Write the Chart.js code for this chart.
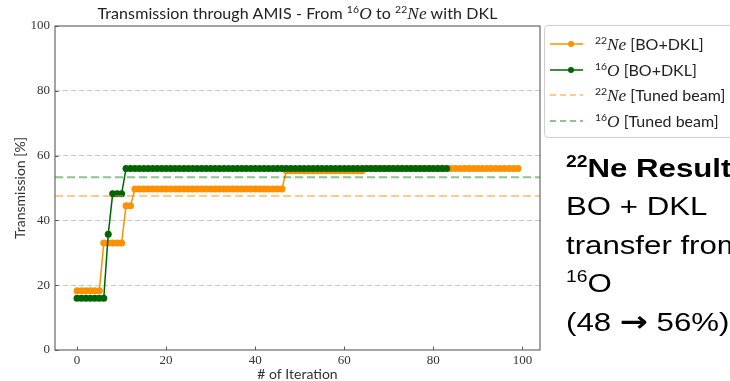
<!DOCTYPE html>
<html>
<head>
<meta charset="utf-8">
<script src="https://cdn.jsdelivr.net/npm/chart.js@4.4.0/dist/chart.umd.min.js"></script>
<style>
  html, body { margin: 0; padding: 0; background: #fff; }
  #wrap { position: relative; width: 730px; height: 381px; overflow: hidden; }
  #chart { position: absolute; left: 0; top: 0; }
  #title { position: absolute; left: 55px; width: 485px; top: 3px; text-align: center;
           font: 16px Lato, sans-serif; color: #222; white-space: nowrap; letter-spacing: 0.1px; }
  #title i, #legend i { font-family: 'Liberation Serif', serif; font-size: 1.08em; }
  sup { font-size: 0.65em; vertical-align: 0.55em; line-height: 0; }
  #legend { position: absolute; left: 544px; top: 25px; width: 200px; height: 111px;
            border: 1px solid #d0d0d0; border-radius: 4px; background: rgba(255,255,255,0.85);
            font: 16px Lato, sans-serif; color: #222; }
  .item { position: absolute; left: 5px; height: 20px; white-space: nowrap; }
  .item svg { position: absolute; left: 0; top: 0; }
  .item span { position: absolute; left: 45px; top: 0; line-height: 20px; }
  #note { position: absolute; left: 566px; top: 149px; font: 26px 'Liberation Sans', Arial, sans-serif;
          color: #000; line-height: 38.4px; white-space: nowrap; transform: scaleX(1.2); transform-origin: 0 0; }
  #note sup { font-size: 0.62em; vertical-align: 0.62em; }
  #note .arr { font-family: 'DejaVu Sans', sans-serif; font-size: 28px; font-weight: bold; line-height: 0; }
</style>
</head>
<body>
<div id="wrap">
  <canvas id="chart" width="730" height="381"></canvas>
  <div id="title">Transmission through AMIS - From <sup>16</sup><i>O</i> to <sup>22</sup><i>Ne</i> with DKL</div>
  <div id="legend"></div>
  <div id="note">
    <b><sup>22</sup>Ne Results</b><br>
    BO + DKL<br>
    transfer from<br>
    <sup>16</sup>O<br>
    (48 <span class="arr">&#8594;</span> 56%)
  </div>
</div>
<script>
// values
const xTicks = [0, 20, 40, 60, 80, 100];
const yTicks = [0, 20, 40, 60, 80, 100];

const neBO = [
  18.3, 18.3, 18.3, 18.3, 18.3, 18.3, 33, 33, 33, 33,
  33, 44.5, 44.5, 49.7, 49.7, 49.7, 49.7, 49.7, 49.7, 49.7,
  49.7, 49.7, 49.7, 49.7, 49.7, 49.7, 49.7, 49.7, 49.7, 49.7,
  49.7, 49.7, 49.7, 49.7, 49.7, 49.7, 49.7, 49.7, 49.7, 49.7,
  49.7, 49.7, 49.7, 49.7, 49.7, 49.7, 49.7, 55.3, 55.3, 55.3,
  55.3, 55.3, 55.3, 55.3, 55.3, 55.3, 55.3, 55.3, 55.3, 55.3,
  55.3, 55.3, 55.3, 55.3, 55.3, 56, 56, 56, 56, 56,
  56, 56, 56, 56, 56, 56, 56, 56, 56, 56,
  56, 56, 56, 56, 56, 56, 56, 56, 56, 56,
  56, 56, 56, 56, 56, 56, 56, 56, 56, 56
];
const oBO = [
  16, 16, 16, 16, 16, 16, 16, 35.7, 48.2, 48.2,
  48.2, 56, 56, 56, 56, 56, 56, 56, 56, 56,
  56, 56, 56, 56, 56, 56, 56, 56, 56, 56,
  56, 56, 56, 56, 56, 56, 56, 56, 56, 56,
  56, 56, 56, 56, 56, 56, 56, 56, 56, 56,
  56, 56, 56, 56, 56, 56, 56, 56, 56, 56,
  56, 56, 56, 56, 56, 56, 56, 56, 56, 56,
  56, 56, 56, 56, 56, 56, 56, 56, 56, 56,
  56, 56, 56, 56
];
const neTuned = 47.5;
const oTuned = 53.3;
const xRange = [-4.95, 103.95];

const seriesLabels = [
  '<sup>22</sup><i>Ne</i> [BO+DKL]',
  '<sup>16</sup><i>O</i> [BO+DKL]',
  '<sup>22</sup><i>Ne</i> [Tuned beam]',
  '<sup>16</sup><i>O</i> [Tuned beam]'
];

const ORANGE = '#ff9000';
const GREEN = '#006400';
const ORANGE_T = 'rgba(255,140,0,0.45)';
const GREEN_T = 'rgba(0,128,0,0.45)';

const toXY = arr => arr.map((y, i) => ({ x: i, y: y }));

const frame = {
  id: 'frame',
  afterDraw(chart) {
    const { ctx, chartArea: a, scales } = chart;
    ctx.save();
    ctx.strokeStyle = '#5a5a5a';
    ctx.lineWidth = 1.1;
    ctx.strokeRect(a.left, a.top, a.right - a.left, a.bottom - a.top);
    ctx.lineWidth = 1;
    ctx.beginPath();
    xTicks.forEach(v => {
      const px = Math.round(scales.x.getPixelForValue(v)) + 0.5;
      ctx.moveTo(px, a.bottom); ctx.lineTo(px, a.bottom - 3.5);
    });
    yTicks.forEach(v => {
      const py = Math.round(scales.y.getPixelForValue(v)) + 0.5;
      ctx.moveTo(a.left, py); ctx.lineTo(a.left + 3.5, py);
    });
    ctx.stroke();
    ctx.restore();
  }
};

// legend built from the datasets
const htmlLegend = {
  id: 'htmlLegend',
  afterUpdate(chart) {
    const box = document.getElementById('legend');
    box.innerHTML = '';
    chart.data.datasets.forEach((ds, i) => {
      const item = document.createElement('div');
      item.className = 'item';
      item.style.top = (8 + i * 25.5) + 'px';
      const dash = ds.borderDash && ds.borderDash.length ? 'stroke-dasharray="6,4"' : '';
      const dot = ds.pointRadius ? `<circle cx="21" cy="10" r="3" fill="${ds.borderColor}"/>` : '';
      item.innerHTML = `<svg width="40" height="20"><line x1="0" y1="10" x2="33" y2="10" stroke="${ds.borderColor}" stroke-width="${ds.pointRadius ? 1.5 : 2}" ${dash}/>${dot}</svg><span>${seriesLabels[i]}</span>`;
      box.appendChild(item);
    });
  }
};

const tickFont = { family: "'Liberation Serif', serif", size: 13 };
const titleFont = { family: 'Lato, sans-serif', size: 14 };

new Chart(document.getElementById('chart'), {
  type: 'line',
  data: {
    datasets: [
      { label: 'Ne BO', data: toXY(neBO), borderColor: ORANGE, backgroundColor: ORANGE,
        borderWidth: 1.5, pointRadius: 3.5, pointBorderWidth: 0, pointHoverRadius: 3.5, order: 2 },
      { label: 'O BO', data: toXY(oBO), borderColor: GREEN, backgroundColor: GREEN,
        borderWidth: 1.5, pointRadius: 3.5, pointBorderWidth: 0, pointHoverRadius: 3.5, order: 1 },
      { label: 'Ne tuned', data: xRange.map(x => ({ x: x, y: neTuned })), borderColor: ORANGE_T,
        borderWidth: 2, borderDash: [8, 4], pointRadius: 0, order: 0 },
      { label: 'O tuned', data: xRange.map(x => ({ x: x, y: oTuned })), borderColor: GREEN_T,
        borderWidth: 2, borderDash: [8, 4], pointRadius: 0, order: 0 }
    ]
  },
  options: {
    responsive: false,
    animation: false,
    layout: { padding: { top: 26, right: 190, left: 0, bottom: 0 } },
    plugins: { legend: { display: false }, tooltip: { enabled: false } },
    scales: {
      x: {
        type: 'linear',
        min: xRange[0],
        max: xRange[1],
        afterBuildTicks: s => { s.ticks = xTicks.map(v => ({ value: v })); },
        afterFit: s => { s.height = 31; },
        grid: { display: false, drawTicks: false },
        border: { display: false },
        ticks: { font: tickFont, color: '#333', padding: 3, maxRotation: 0 },
        title: { display: true, text: '# of Iteration', font: titleFont, color: '#333', padding: { top: 0, bottom: -2 } }
      },
      y: {
        min: 0,
        max: 100,
        afterBuildTicks: s => { s.ticks = yTicks.map(v => ({ value: v })); },
        afterFit: s => { s.width = 55; },
        grid: {
          drawTicks: false,
          color: c => (c.tick.value === 0 || c.tick.value === 100) ? 'rgba(0,0,0,0)' : '#c8c8c8',
          lineWidth: 1
        },
        border: { display: false, dash: [5, 3] },
        ticks: { font: tickFont, color: '#333', padding: 5 },
        title: { display: true, text: 'Transmission [%]', font: titleFont, color: '#333', padding: { top: 12, bottom: 0 } }
      }
    }
  },
  plugins: [frame, htmlLegend]
});
</script>
</body>
</html>
